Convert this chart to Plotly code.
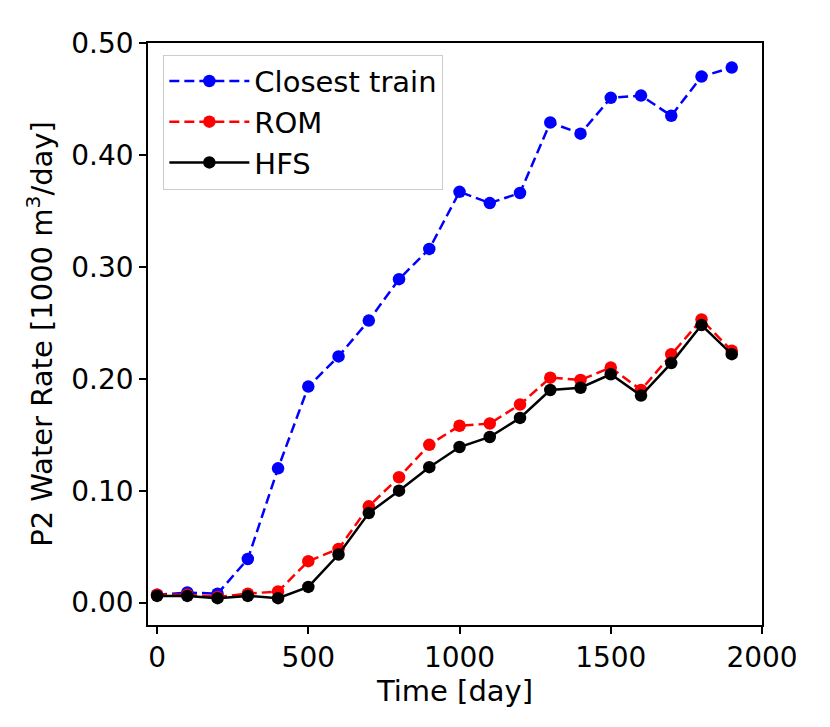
import plotly.graph_objects as go

time_days = [0, 100, 200, 300, 400, 500, 600, 700, 800, 900, 1000,
             1100, 1200, 1300, 1400, 1500, 1600, 1700, 1800, 1900]
closest_train = [0.007, 0.009, 0.008, 0.039, 0.120, 0.193, 0.220, 0.252, 0.289, 0.316,
                 0.367, 0.357, 0.366, 0.429, 0.419, 0.451, 0.453, 0.435, 0.470, 0.478]
rom = [0.007, 0.007, 0.005, 0.008, 0.010, 0.037, 0.048, 0.086, 0.112, 0.141,
       0.158, 0.160, 0.177, 0.201, 0.199, 0.210, 0.190, 0.222, 0.253, 0.225]
hfs = [0.006, 0.006, 0.004, 0.006, 0.004, 0.014, 0.043, 0.080, 0.100, 0.121,
       0.139, 0.148, 0.165, 0.190, 0.192, 0.204, 0.185, 0.214, 0.248, 0.222]

y_ticks = [0.0, 0.1, 0.2, 0.3, 0.4, 0.5]
x_ticks = [0, 500, 1000, 1500, 2000]

font_family = "DejaVu Sans"

fig = go.Figure()
fig.add_trace(go.Scatter(x=time_days, y=closest_train, name="Closest train",
                         mode="lines+markers",
                         line=dict(color="blue", width=2.5, dash="10px,5px"),
                         marker=dict(color="blue", size=12.5)))
fig.add_trace(go.Scatter(x=time_days, y=rom, name="ROM",
                         mode="lines+markers",
                         line=dict(color="red", width=2.5, dash="10px,5px"),
                         marker=dict(color="red", size=12.5)))
fig.add_trace(go.Scatter(x=time_days, y=hfs, name="HFS",
                         mode="lines+markers",
                         line=dict(color="black", width=2.5),
                         marker=dict(color="black", size=12.5)))

axis_common = dict(showline=True, linecolor="black", linewidth=1.5, mirror=True,
                   ticks="outside", ticklen=7, tickwidth=1.5, tickcolor="black",
                   showgrid=False, zeroline=False,
                   tickfont=dict(family=font_family, size=28, color="black"))

fig.update_xaxes(range=[-30, 2000], tickvals=x_ticks,
                 title=dict(text="Time [day]", font=dict(family=font_family, size=29, color="black"),
                            standoff=6),
                 **axis_common)
fig.update_yaxes(range=[-0.02, 0.5], tickvals=y_ticks, tickformat=".2f",
                 title=dict(text="P2 Water Rate [1000 m<sup>3</sup>/day]",
                            font=dict(family=font_family, size=29, color="black"), standoff=10),
                 **axis_common)

fig.update_layout(
    width=830, height=727,
    margin=dict(l=140, r=76, t=35, b=110),
    paper_bgcolor="white", plot_bgcolor="white",
    font=dict(family=font_family, size=28, color="black"),
    showlegend=True,
    legend=dict(x=0.025, y=0.98, xanchor="left", yanchor="top",
                bgcolor="rgba(255,255,255,0.8)", bordercolor="#cccccc", borderwidth=1,
                font=dict(family=font_family, size=29, color="black"),
                itemwidth=80, tracegroupgap=3),
)

fig.write_html("out.html")
